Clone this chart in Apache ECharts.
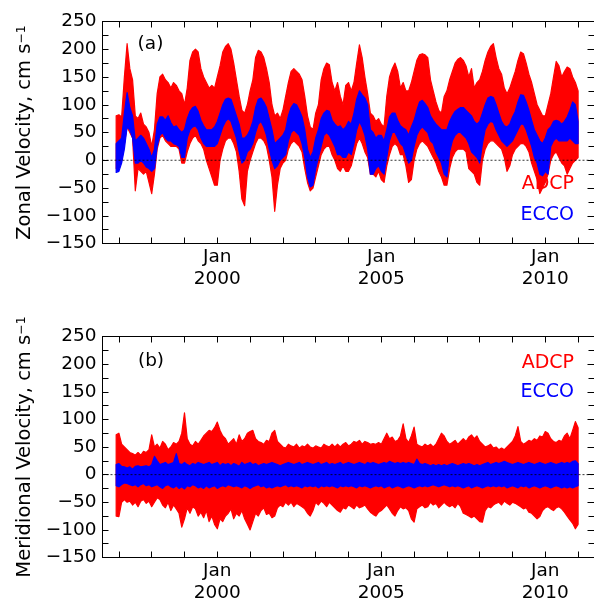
<!DOCTYPE html>
<html>
<head>
<meta charset="utf-8">
<script src="https://cdn.jsdelivr.net/npm/echarts@6/dist/echarts.min.js"></script>
<style>
  html, body { margin: 0; padding: 0; background: #fff; }
  #chart { width: 594px; height: 603px; }
</style>
</head>
<body>
<div id="chart"></div>
<script>
// Monthly envelopes (min / max of the daily records in each month) of the
// zonal and meridional velocity, cm/s, from Dec 1996 through Jan 2011.
// Each row below is one calendar year; the first value is Dec 1996 and
// the last is Jan 2011.

const zonalAdcpHigh = [80,
  82, 78, 150, 210, 165, 145, 80, 75, 85, 65, 60, 50,
  25, 55, 120, 150, 155, 145, 140, 130, 140, 135, 125, 120,
  100, 130, 180, 195, 200, 195, 165, 150, 140, 130, 135, 130,
  150, 170, 195, 205, 210, 200, 175, 145, 115, 90, 85, 100,
  125, 145, 185, 198, 195, 185, 165, 140, 100, 80, 85, 75,
  90, 115, 140, 160, 165, 160, 155, 145, 115, 80, 60, 55,
  85, 100, 145, 165, 175, 172, 140, 125, 140, 115, 100, 135,
  140, 125, 140, 175, 208, 185, 150, 120, 85, 80, 70, 75,
  65, 60, 115, 150, 165, 175, 160, 130, 140, 125, 125, 140,
  160, 180, 190, 192, 190, 185, 145, 125, 105, 90, 85, 115,
  125, 145, 160, 175, 182, 185, 180, 170, 150, 165, 130, 140,
  145, 160, 180, 195, 205, 210, 185, 165, 155, 130, 120, 130,
  145, 160, 180, 195, 192, 175, 155, 140, 120, 100, 90, 80,
  80, 100, 120, 150, 178, 170, 150, 160, 168, 165, 150, 140,
  125];

const zonalAdcpLow = [-15,
  -10, 0, 30, 60, 50, 40, -55, -15, -20, -25, -20, -40,
  -60, -25, 20, 40, 45, 35, 30, 25, 25, 25, 20, -5,
  -5, 15, 30, 40, 45, 35, 30, 20, 0, -15, -30, -45,
  -45, 0, 20, 35, 40, 40, 30, 15, -20, -70, -82, -20,
  0, 15, 30, 40, 40, 35, 25, 0, -30, -92, -45, -15,
  -5, 0, 20, 30, 35, 30, 25, 15, -15, -40, -55, -50,
  -30, -10, 10, 20, 25, 25, 10, 0, -15, -20, -10, -20,
  -20, -10, 10, 30, 40, 30, 15, 5, -25, -25, -30, -20,
  -35, -40, -10, 10, 25, 30, 25, 10, 10, -10, -40, -35,
  0, 20, 30, 35, 30, 25, 15, 5, -5, -20, -30, -45,
  -45, -15, 5, 15, 20, 20, 20, 15, -15, -20, -25, -40,
  -45, 0, 20, 30, 35, 35, 30, 25, 20, 5, -20, -10,
  10, 20, 25, 30, 30, 25, 15, -5, -20, -35, -60, -50,
  -40, -25, 0, 10, 15, 5, -5, -10, -25, -15, -5, 0,
  5];

const zonalEccoHigh = [30,
  35, 40, 85, 122, 95, 80, 35, 40, 45, 40, 30, 20,
  5, 20, 65, 78, 78, 72, 80, 68, 60, 62, 55, 50,
  55, 75, 88, 95, 97, 88, 72, 62, 55, 55, 55, 60,
  70, 85, 100, 110, 112, 110, 95, 80, 65, 40, 40, 45,
  55, 70, 95, 110, 112, 105, 95, 75, 55, 30, 35, 40,
  45, 55, 80, 95, 102, 100, 90, 78, 55, 20, 5, 15,
  40, 55, 75, 85, 90, 88, 72, 65, 60, 62, 55, 60,
  70, 65, 85, 110, 125, 118, 112, 100, 55, 50, 40, 45,
  45, 35, 55, 78, 85, 85, 72, 62, 58, 55, 45, 60,
  72, 90, 105, 108, 102, 95, 80, 72, 65, 60, 55, 55,
  55, 70, 80, 88, 92, 95, 95, 90, 85, 80, 70, 65,
  70, 85, 100, 112, 115, 113, 100, 85, 70, 62, 60, 65,
  78, 88, 105, 118, 117, 105, 90, 72, 55, 45, 35, 30,
  40, 55, 60, 70, 72, 70, 65, 70, 78, 90, 105, 100,
  70];

const zonalEccoLow = [-22,
  -20, -5, 20, 60, 55, 40, -5, -5, 0, -5, -12, -15,
  -20, -15, 25, 45, 50, 40, 35, 35, 30, 28, 25, 5,
  5, 40, 55, 60, 62, 55, 40, 30, 25, 25, 25, 25,
  30, 45, 60, 70, 75, 70, 55, 40, 15, -5, 0, 15,
  20, 30, 50, 65, 70, 60, 45, 20, 0, -15, -10, 0,
  5, 10, 35, 50, 55, 50, 45, 30, 5, -30, -48, -45,
  -15, 5, 25, 45, 50, 45, 35, 25, 10, 10, 5, 5,
  15, 10, 30, 55, 70, 60, 45, 20, -25, -25, -15, -10,
  -20, -25, 5, 35, 50, 50, 40, 30, 25, 10, -5, 0,
  25, 45, 55, 60, 55, 50, 35, 30, 15, 5, -5, -25,
  -30, 15, 35, 45, 50, 50, 45, 40, 30, 15, 10, 5,
  -5, 30, 55, 65, 70, 68, 55, 45, 35, 30, 25, 30,
  35, 45, 55, 65, 65, 55, 40, 25, 5, -5, -25, -28,
  -20, -25, 25, 35, 40, 35, 35, 35, 35, 40, 35, 30,
  30];

const meridAdcpHigh = [72,
  75, 55, 50, 45, 40, 38, 35, 40, 35, 42, 40, 45,
  72, 50, 55, 48, 60, 55, 45, 50, 58, 55, 60, 75,
  112, 65, 55, 52, 60, 55, 62, 70, 75, 80, 78, 85,
  95, 80, 70, 65, 55, 60, 65, 55, 72, 60, 65, 75,
  78, 80, 65, 60, 58, 55, 62, 60, 75, 80, 60, 55,
  50, 48, 55, 52, 50, 55, 48, 52, 50, 55, 50, 48,
  52, 50, 48, 55, 52, 50, 55, 50, 55, 50, 55, 58,
  52, 55, 60, 58, 62, 55, 60, 58, 55, 56, 55, 58,
  55, 65, 75, 65, 68, 60, 62, 70, 92, 65, 58, 70,
  86, 55, 52, 50, 55, 52, 55, 50, 55, 65, 75, 70,
  60, 55, 58, 62, 55, 60, 65, 60, 68, 72, 65, 70,
  60, 55, 50, 52, 55, 48, 50, 45, 48, 45, 50, 55,
  60, 70, 87, 60, 55, 58, 62, 60, 65, 62, 70, 68,
  78, 75, 65, 60, 58, 62, 60, 70, 75, 65, 80, 96,
  85];

const meridAdcpLow = [-75,
  -76, -50, -45, -50, -48, -55, -50, -58, -48, -45, -52, -48,
  -58, -50, -42, -45, -55, -60, -50, -65, -55, -62, -70, -95,
  -80, -60, -70, -58, -62, -75, -68, -78, -65, -85, -75, -90,
  -98, -80, -85, -75, -70, -62, -80, -70, -75, -65, -80, -90,
  -100, -85, -70, -75, -65, -60, -72, -70, -78, -75, -60, -55,
  -58, -50, -55, -50, -58, -52, -55, -58, -62, -70, -75, -65,
  -50, -55, -48, -52, -58, -50, -55, -60, -65, -68, -60, -62,
  -55, -58, -62, -55, -60, -58, -55, -62, -68, -72, -75, -68,
  -65, -60, -55, -62, -70, -75, -65, -58, -62, -60, -65, -80,
  -86, -62, -58, -55, -60, -58, -50, -55, -52, -60, -55, -50,
  -55, -58, -55, -60, -52, -58, -70, -72, -75, -78, -75, -80,
  -85, -86, -65, -58, -60, -55, -52, -50, -55, -48, -52, -55,
  -50, -52, -55, -58, -62, -60, -68, -70, -75, -80, -76, -65,
  -60, -58, -62, -65, -60, -58, -62, -68, -75, -82, -88, -98,
  -90];

const meridEccoHigh = [18,
  20, 15, 14, 12, 14, 10, 15, 16, 14, 15, 16, 14,
  18, 33, 25, 18, 20, 22, 18, 20, 22, 38, 20, 18,
  22, 18, 16, 20, 18, 22, 20, 18, 20, 22, 18, 20,
  22, 16, 20, 18, 20, 16, 20, 18, 15, 22, 18, 20,
  22, 18, 20, 16, 18, 20, 18, 20, 22, 20, 18, 16,
  18, 20, 22, 20, 18, 20, 22, 18, 20, 22, 20, 18,
  20, 22, 18, 20, 22, 18, 20, 18, 20, 22, 18, 20,
  22, 20, 18, 20, 22, 20, 18, 22, 20, 22, 20, 18,
  20, 22, 20, 24, 22, 20, 22, 20, 22, 20, 22, 20,
  18, 28, 20, 18, 20, 18, 16, 18, 16, 18, 16, 18,
  16, 18, 20, 18, 16, 18, 20, 18, 20, 18, 16, 18,
  16, 18, 20, 22, 18, 20, 22, 20, 22, 24, 22, 20,
  18, 20, 22, 20, 18, 20, 22, 20, 18, 20, 22, 20,
  18, 20, 22, 20, 18, 20, 22, 20, 22, 20, 24, 25,
  20];

const meridEccoLow = [-20,
  -22, -18, -15, -16, -18, -20, -18, -22, -18, -16, -20, -18,
  -22, -20, -18, -22, -25, -20, -18, -22, -24, -20, -25, -22,
  -26, -20, -22, -18, -20, -24, -22, -25, -20, -24, -22, -20,
  -25, -22, -20, -22, -18, -20, -22, -20, -22, -24, -20, -22,
  -25, -22, -20, -18, -22, -20, -24, -22, -24, -22, -20, -22,
  -20, -18, -22, -20, -22, -20, -22, -24, -20, -22, -20, -22,
  -20, -24, -20, -22, -20, -22, -20, -22, -24, -20, -22, -20,
  -22, -20, -22, -24, -20, -22, -20, -22, -24, -22, -20, -22,
  -20, -24, -22, -20, -24, -22, -20, -22, -24, -22, -20, -22,
  -24, -22, -20, -22, -20, -22, -20, -18, -20, -22, -20, -18,
  -20, -22, -20, -22, -20, -22, -24, -22, -20, -24, -22, -20,
  -22, -24, -22, -20, -22, -20, -22, -20, -22, -20, -24, -22,
  -20, -22, -24, -20, -22, -20, -24, -22, -20, -22, -24, -22,
  -20, -22, -24, -22, -20, -22, -24, -22, -24, -22, -24, -22,
  -20];

// Tick positions (1 January of each year) and the labelled years
const yearTicks = [1997, 1998, 1999, 2000, 2001, 2002, 2003, 2004,
                   2005, 2006, 2007, 2008, 2009, 2010, 2011];
const labelledYears = [2000, 2005, 2010];
const velocityTicks = [-150, -100, -50, 0, 50, 100, 150, 200, 250];

// Time coordinate of each monthly sample (decimal year, 1st of month)
const monthStamps = [];
for (let i = 0; i < zonalAdcpHigh.length; i++) monthStamps.push(1996 + (11 + i) / 12);

const FONT = 'DejaVu Sans';
const RED = '#ff0000';
const BLUE = '#0000ff';
const X_MIN = 1996.5, X_MAX = 2011.5;

const chart = echarts.init(document.getElementById('chart'), null, { renderer: 'canvas' });

function minusLabel(v) {
  return v < 0 ? '\u2212' + Math.abs(v) : String(v);
}

function xAxes(gridIndex) {
  const common = {
    type: 'value', gridIndex, min: X_MIN, max: X_MAX,
    splitLine: { show: false },
    axisLine: { show: true, onZero: false, lineStyle: { color: '#000', width: 1 } },
    axisTick: { show: true, inside: true, length: 6, customValues: yearTicks,
                lineStyle: { color: '#000', width: 1 } }
  };
  return [
    Object.assign({}, common, {
      position: 'bottom',
      axisLabel: {
        customValues: labelledYears, formatter: v => 'Jan\n' + v,
        fontFamily: FONT, fontSize: 18.5, color: '#000', lineHeight: 21.5, margin: 3
      }
    }),
    Object.assign({}, common, { position: 'top', axisLabel: { show: false } })
  ];
}

function yAxes(gridIndex, title) {
  const common = {
    type: 'value', gridIndex, min: velocityTicks[0],
    max: velocityTicks[velocityTicks.length - 1], interval: 50,
    splitLine: { show: false },
    axisLine: { show: true, onZero: false, lineStyle: { color: '#000', width: 1 } },
    axisTick: { show: true, inside: true, length: 6, lineStyle: { color: '#000', width: 1 } },
    minorTick: { show: true, splitNumber: 2, length: 6, lineStyle: { color: '#000', width: 1 } }
  };
  return [
    Object.assign({}, common, {
      position: 'left',
      name: title + ', cm s{sup|\u22121}',
      nameLocation: 'middle', nameGap: 64,
      nameTextStyle: {
        fontFamily: FONT, fontSize: 19.5, color: '#000',
        rich: { sup: { fontFamily: FONT, fontSize: 12.5, color: '#000', verticalAlign: 'top' } }
      },
      axisLabel: { formatter: minusLabel, fontFamily: FONT, fontSize: 18.5, color: '#000', margin: 6 }
    }),
    Object.assign({}, common, { position: 'right', axisLabel: { show: false },
      axisTick: Object.assign({}, common.axisTick, { length: 7 }) })
  ];
}

// A filled band between the low and high monthly envelopes, drawn as one
// polygon through the axis scales
function band(id, low, high, color, axisIndex) {
  return {
    type: 'custom', id, name: id, xAxisIndex: axisIndex, yAxisIndex: axisIndex,
    silent: true, animation: false, clip: true,
    data: monthStamps.map((t, i) => [t, low[i], high[i]]),
    encode: { x: 0, y: [1, 2] },
    renderItem(params, api) {
      if (params.dataIndex !== 0) return null;
      const pts = [];
      for (let i = 0; i < monthStamps.length; i++) pts.push(api.coord([monthStamps[i], high[i]]));
      for (let i = monthStamps.length - 1; i >= 0; i--) pts.push(api.coord([monthStamps[i], low[i]]));
      return {
        type: 'polygon',
        shape: { points: pts },
        style: { fill: color, stroke: color, lineWidth: 1.2, lineJoin: 'round' }
      };
    }
  };
}

function zeroLine(id, axisIndex) {
  return {
    type: 'line', id, xAxisIndex: axisIndex, yAxisIndex: axisIndex, z: 10,
    symbol: 'none', silent: true, animation: false,
    data: [[X_MIN, 0], [X_MAX, 0]],
    lineStyle: { color: '#000', width: 0.8, type: [2, 2] }
  };
}

function legendText(text, color, x, y) {
  return { type: 'text', x, y, silent: true,
    style: { text, fill: color, font: '19px "DejaVu Sans"', align: 'right', verticalAlign: 'middle' } };
}

function panelTag(text, x, y) {
  return { type: 'text', x, y, silent: true,
    style: { text, fill: '#000', font: '18.5px "DejaVu Sans"', align: 'center', verticalAlign: 'middle' } };
}

const xa = xAxes(0).concat(xAxes(1));
const ya = yAxes(0, 'Zonal Velocity').concat(yAxes(1, 'Meridional Velocity'));

const option = {
  backgroundColor: '#fff',
  animation: false,
  grid: [
    { left: 102.5, top: 21.5, width: 492, height: 222, outerBoundsMode: 'none', containLabel: false },
    { left: 102.5, top: 336.5, width: 492, height: 221, outerBoundsMode: 'none', containLabel: false }
  ],
  xAxis: xa,
  yAxis: ya,
  series: [
    band('zonalADCP', zonalAdcpLow, zonalAdcpHigh, RED, 0),
    band('zonalECCO', zonalEccoLow, zonalEccoHigh, BLUE, 0),
    zeroLine('zonalZero', 0),
    band('meridADCP', meridAdcpLow, meridAdcpHigh, RED, 2),
    band('meridECCO', meridEccoLow, meridEccoHigh, BLUE, 2),
    zeroLine('meridZero', 2)
  ],
  graphic: [
    panelTag('(a)', 150.5, 44),
    panelTag('(b)', 151, 361),
    legendText('ADCP', RED, 574, 184.5),
    legendText('ECCO', BLUE, 574, 215.5),
    legendText('ADCP', RED, 574, 363),
    legendText('ECCO', BLUE, 574, 392)
  ]
};

chart.setOption(option);
</script>
</body>
</html>
